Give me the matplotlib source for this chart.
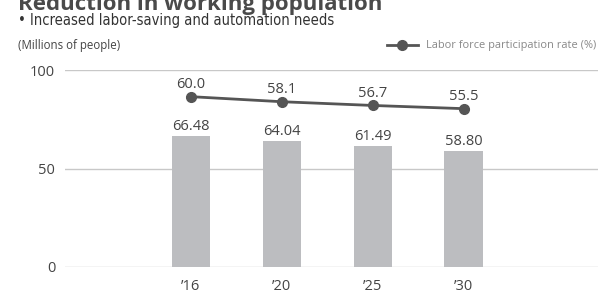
import numpy as np
import matplotlib.pyplot as plt

years = ["\u201916", "\u201920", "\u201925", "\u201930"]
population = [66.48, 64.04, 61.49, 58.80]
participation = [60.0, 58.1, 56.7, 55.5]

plt.rcParams['font.family'] = ['Open Sans', 'DejaVu Sans']

fig = plt.figure(figsize=(5.98, 2.93), dpi=100)
ax = fig.add_axes([65/598, 26/293, 1 - 65/598, 197/293])
x = np.arange(len(years))

ax.bar(x, population, width=0.42, color='#bcbdc0', zorder=2)
for xi, v in zip(x, population):
    ax.annotate(f"{v:.2f}", (xi, v), xytext=(0, 1.5), textcoords='offset points',
                ha='center', va='bottom', fontsize=10.5, color='#444444')

ax.set_xlim(-1.385, 4.48)
ax.set_ylim(0, 100)
ax.set_yticks([0, 50, 100])
ax.set_yticklabels(['0', '50', '100'], fontsize=10.5, color='#444444')
ax.set_xticks(x)
ax.set_xticklabels(years, fontsize=10.5, color='#444444')
ax.tick_params(length=0)
ax.tick_params(axis='x', pad=9)
ax.tick_params(axis='y', pad=7)
ax.grid(axis='y', color='#c8c8c8', lw=1, zorder=0)
for s in ax.spines.values():
    s.set_visible(False)

ax2 = ax.twinx()
ax2.set_ylim(-3.9, 70)
ax2.plot(x, participation, color='#555555', lw=2, marker='o', ms=7, zorder=3)
for xi, v in zip(x, participation):
    ax2.annotate(f"{v:.1f}", (xi, v), xytext=(0, 3.5), textcoords='offset points',
                 ha='center', va='bottom', fontsize=10.5, color='#444444')
ax2.axis('off')

fig.text(18/598, 1 - 10/293, "Reduction in working population", fontsize=16,
         fontweight='bold', color='#4a4a4a', va='baseline', ha='left')
fig.text(18/598, 1 - 20/293, "\u2022 Increased labor-saving and automation needs",
         fontsize=10.5, color='#333333', va='center', ha='left',
         family='DejaVu Sans', fontstretch='condensed')
fig.text(18/598, 1 - 45/293, "(Millions of people)", fontsize=8.3,
         color='#444444', va='center', ha='left')

# legend drawn by hand in figure coords
fig.add_artist(plt.Line2D([387/598, 418/598], [1 - 45/293, 1 - 45/293],
                          color='#555555', lw=2, transform=fig.transFigure))
fig.add_artist(plt.Line2D([402/598], [1 - 45/293], color='#555555', marker='o', ms=7,
                          transform=fig.transFigure))
fig.text(426/598, 1 - 45/293, "Labor force participation rate (%)", fontsize=7.9,
         color='#888888', va='center', ha='left')

fig.savefig('out.png', dpi=100)
